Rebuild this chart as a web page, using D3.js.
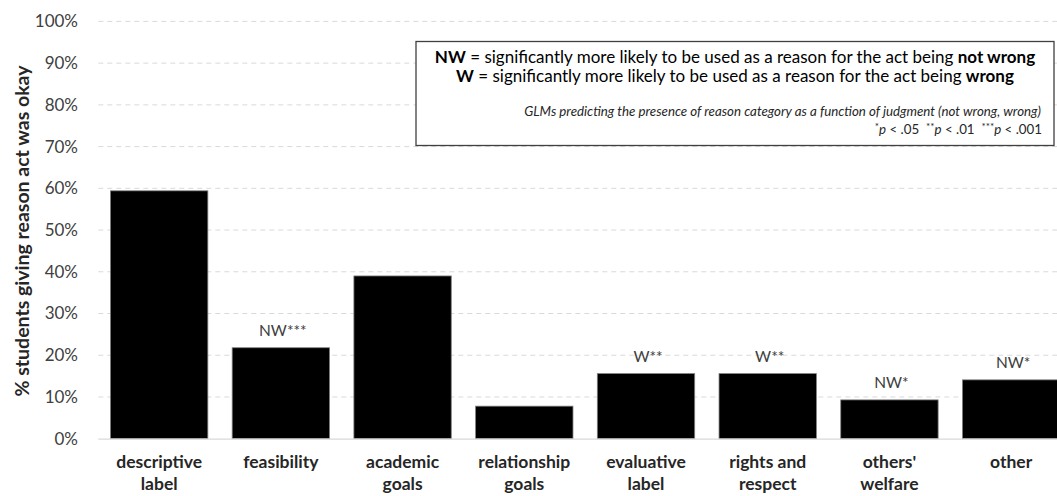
<!DOCTYPE html>
<html>
<head>
<meta charset="utf-8">
<script src="https://cdn.jsdelivr.net/npm/d3@7"></script>
<style>
  body { margin: 0; background: #fff; }
  svg { display: block; font-family: Lato, sans-serif; }
</style>
</head>
<body>
<div id="chart"></div>
<script>
// data
var categories = [["descriptive","label"],["feasibility"],["academic","goals"],["relationship","goals"],
                  ["evaluative","label"],["rights and","respect"],["others'","welfare"],["other"]];
var values = [59.4, 21.8, 39.0, 7.8, 15.6, 15.6, 9.3, 14.1];
var sigLabels = ["", "NW***", "", "", "W**", "W**", "NW*", "NW*"];
var yTicks = [0,10,20,30,40,50,60,70,80,90,100];

var width = 1057, height = 496;
var plotLeft = 98.3, plotRight = 1072, plotTop = 21.4, plotBottom = 438.7;

var svg = d3.select("#chart").append("svg")
    .attr("width", width)
    .attr("height", height);

var x = d3.scaleBand()
    .domain(d3.range(categories.length))
    .range([plotLeft, plotRight])
    .paddingInner(0.2)
    .paddingOuter(0.1);

var y = d3.scaleLinear().domain([0,100]).range([plotBottom, plotTop]);

// gridlines
svg.append("g").selectAll("line")
  .data(yTicks.filter(function(d){return d>0}))
  .enter().append("line")
  .attr("x1", plotLeft).attr("x2", width)
  .attr("y1", function(d){return y(d)}).attr("y2", function(d){return y(d)})
  .style("stroke", "#d9d9d9")
  .style("stroke-width", 1)
  .style("stroke-dasharray", "5,4");

// y axis labels
var yAxis = d3.axisLeft(y).tickValues(yTicks).tickSize(0).tickPadding(0)
    .tickFormat(function(d){return d+"%"});
var ya = svg.append("g").attr("transform","translate(78,0)").call(yAxis);
ya.select(".domain").remove();
ya.selectAll("text")
  .style("font-family", "Lato, sans-serif")
  .style("font-size", "17px")
  .style("fill", "#404040");

// bars
svg.append("g").selectAll("rect")
  .data(values)
  .enter().append("rect")
  .attr("x", function(d,i){return x(i)})
  .attr("width", x.bandwidth())
  .attr("y", function(d){return y(d)})
  .attr("height", function(d){return plotBottom - y(d)})
  .style("fill", "#000")
  .style("stroke", "#7f7f7f")
  .style("stroke-width", 0.8);

// baseline
svg.append("line")
  .attr("x1", plotLeft).attr("x2", width)
  .attr("y1", plotBottom+0.5).attr("y2", plotBottom+0.5)
  .style("stroke", "#d9d9d9").style("stroke-width", 1.2);

// significance labels
svg.append("g").selectAll("text")
  .data(sigLabels)
  .enter().append("text")
  .attr("x", function(d,i){return x(i) + x.bandwidth()/2 + 2})
  .attr("y", function(d,i){return y(values[i]) - 12})
  .attr("text-anchor", "middle")
  .style("font-size", "15.5px")
  .style("fill", "#404040")
  .text(function(d){return d});

// category labels
var cl = svg.append("g").selectAll("text")
  .data(categories)
  .enter().append("text")
  .attr("x", function(d,i){return x(i) + x.bandwidth()/2})
  .attr("y", 468)
  .attr("text-anchor", "middle")
  .style("font-size", "17.5px")
  .style("font-weight", "bold")
  .style("fill", "#262626");
cl.selectAll("tspan")
  .data(function(d){return d})
  .enter().append("tspan")
  .attr("x", function(){return this.parentNode.getAttribute("x")})
  .attr("dy", function(d,i){return i ? 22 : 0})
  .text(function(d){return d});

// y axis title
svg.append("text")
  .attr("transform", "translate(29," + (231) + ") rotate(-90)")
  .attr("text-anchor", "middle")
  .style("font-size", "19.5px")
  .style("font-weight", "bold")
  .style("fill", "#262626")
  .text("% students giving reason act was okay");

// legend box
var lg = svg.append("g");
lg.append("rect")
  .attr("x", 416).attr("y", 41.5)
  .attr("width", 638).attr("height", 104)
  .style("fill", "#fff")
  .style("stroke", "#404040")
  .style("stroke-width", 1.3);

var l1 = lg.append("text").attr("x", 735).attr("y", 63).attr("text-anchor","middle")
  .style("font-size","17px").style("fill","#000");
l1.append("tspan").style("font-weight","bold").text("NW");
l1.append("tspan").text(" = significantly more likely to be used as a reason for the act being ");
l1.append("tspan").style("font-weight","bold").text("not wrong");

var l2 = lg.append("text").attr("x", 735).attr("y", 82).attr("text-anchor","middle")
  .style("font-size","17px").style("fill","#000");
l2.append("tspan").style("font-weight","bold").text("W");
l2.append("tspan").text(" = significantly more likely to be used as a reason for the act being ");
l2.append("tspan").style("font-weight","bold").text("wrong");

lg.append("text").attr("x", 1041).attr("y", 116).attr("text-anchor","end")
  .style("font-size","13.3px").style("font-style","italic").style("fill","#262626")
  .text("GLMs predicting the presence of reason category as a function of judgment (not wrong, wrong)");

var l4 = lg.append("text").attr("x", 1042).attr("y", 134).attr("text-anchor","end")
  .style("font-size","13.3px").style("fill","#262626").style("white-space","pre");
[["*","p"," < .05  "],["**","p"," < .01  "],["***","p"," < .001"]].forEach(function(p){
  l4.append("tspan").style("font-size","10px").attr("dy",-4).text(p[0]);
  l4.append("tspan").style("font-style","italic").attr("dy",4).text(p[1]);
  l4.append("tspan").text(p[2]);
});
</script>
</body>
</html>
